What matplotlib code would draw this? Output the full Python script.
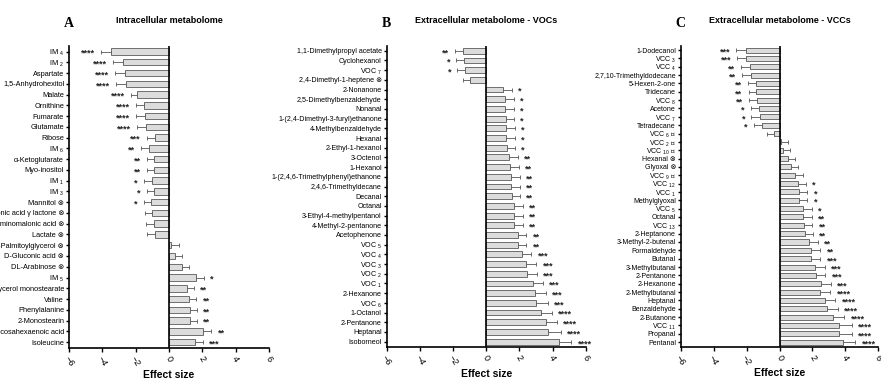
import matplotlib.pyplot as plt
import numpy as np

plt.rcParams['font.family'] = ['Liberation Sans', 'DejaVu Sans']
plt.rcParams['mathtext.fontset'] = 'custom'
plt.rcParams['mathtext.rm'] = 'Liberation Sans'
plt.rcParams['mathtext.it'] = 'Liberation Sans'

X = ' \u2297'  # excluded marker

# ---- panel A: intracellular metabolome
names_a = ['IM $_{4}$', 'IM $_{2}$', 'Aspartate', '1,5-Anhydrohexitol', 'Malate', 'Ornithine',
           'Fumarate', 'Glutamate', 'Ribose', 'IM $_{6}$', '\u03b1-Ketoglutarate', 'Myo-inositol',
           'IM $_{1}$', 'IM $_{3}$', 'Mannitol' + X, 'Gulonic acid \u03b3 lactone' + X,
           'Aminomalonic acid' + X, 'Lactate' + X, '2-Palmitoylglycerol' + X,
           'D-Gluconic acid' + X, 'DL-Arabinose' + X, 'IM $_{5}$', 'Glycerol monostearate',
           'Valine', 'Phenylalanine', '2-Monostearin', 'Docosahexaenoic acid', 'Isoleucine']
vals_a = [-3.45, -2.77, -2.65, -2.59, -1.89, -1.52, -1.45, -1.35, -0.86, -1.2, -0.92, -0.92,
          -1.0, -0.92, -1.05, -1.0, -0.92, -0.82, 0.12, 0.38, 0.78, 1.64, 1.08, 1.2,
          1.24, 1.24, 2.04, 1.58]
errs_a = [0.64, 0.58, 0.6, 0.6, 0.4, 0.44, 0.5, 0.57, 0.46, 0.46, 0.4, 0.4,
          0.52, 0.4, 0.46, 0.46, 0.48, 0.5, 0.48, 0.42, 0.42, 0.46, 0.42, 0.44,
          0.44, 0.44, 0.5, 0.46]
stars_a = ['****', '****', '****', '****', '****', '****', '****', '****', '***', '**', '**', '**',
           '*', '*', '*', '', '', '', '', '', '', '*', '**', '**', '**', '**', '**', '***']

# ---- panel B: extracellular VOCs
names_b = ['1,1-Dimethylpropyl acetate', 'Cyclohexanol', 'VOC $_{7}$', '2,4-Dimethyl-1-heptene' + X,
           '2-Nonanone', '2,5-Dimethylbenzaldehyde', 'Nonanal', '1-(2,4-Dimethyl-3-furyl)ethanone',
           '4-Methylbenzaldehyde', 'Hexanal', '2-Ethyl-1-hexanol', '3-Octenol', '1-Hexanol',
           '1-(2,4,6-Trimethylphenyl)ethanone', '2,4,6-Trimethyldecane', 'Decanal', 'Octanal',
           '3-Ethyl-4-methylpentanol', '4-Methyl-2-pentanone', 'Acetophenone', 'VOC $_{5}$',
           'VOC $_{4}$', 'VOC $_{3}$', 'VOC $_{2}$', 'VOC $_{1}$', '2-Hexanone', 'VOC $_{6}$',
           '1-Octanol', '2-Pentanone', 'Heptanal', 'Isoborneol']
vals_b = [-1.42, -1.34, -1.26, -0.98, 1.03, 1.15, 1.15, 1.17, 1.19, 1.19, 1.23, 1.39, 1.43,
          1.49, 1.49, 1.53, 1.67, 1.69, 1.69, 1.89, 1.89, 2.15, 2.43, 2.49, 2.83, 2.93, 3.03,
          3.28, 3.6, 3.7, 4.4]
errs_b = [0.46, 0.45, 0.48, 0.44, 0.5, 0.52, 0.52, 0.5, 0.52, 0.52, 0.5, 0.5, 0.54,
          0.54, 0.54, 0.5, 0.56, 0.54, 0.54, 0.54, 0.54, 0.58, 0.6, 0.58, 0.6, 0.66, 0.7,
          0.66, 0.68, 0.8, 0.74]
stars_b = ['**', '*', '*', '', '*', '*', '*', '*', '*', '*', '*', '**', '**', '**', '**', '**',
           '**', '**', '**', '**', '**', '***', '***', '***', '***', '***', '***',
           '****', '****', '****', '****']

# ---- panel C: extracellular VCCs
names_c = ['1-Dodecanol', 'VCC $_{3}$', 'VCC $_{4}$', '2,7,10-Trimethyldodecane', '5-Hexen-2-one',
           'Tridecane', 'VCC $_{8}$', 'Acetone', 'VCC $_{7}$', 'Tetradecane', 'VCC $_{6}$' + X,
           'VCC $_{2}$' + X, 'VCC $_{10}$' + X, 'Hexanal' + X, 'Glyoxal' + X, 'VCC $_{9}$' + X,
           'VCC $_{12}$', 'VCC $_{1}$', 'Methylglyoxal', 'VCC $_{5}$', 'Octanal', 'VCC $_{13}$',
           '2-Heptanone', '3-Methyl-2-butenal', 'Formaldehyde', 'Butanal', '3-Methylbutanal',
           '2-Pentanone', '2-Hexanone', '2-Methylbutanal', 'Heptanal', 'Benzaldehyde',
           '2-Butanone', 'VCC $_{11}$', 'Propanal', 'Pentanal']
vals_c = [-2.06, -2.02, -1.78, -1.76, -1.45, -1.41, -1.37, -1.25, -1.21, -1.09, -0.34, 0.06,
          0.2, 0.5, 0.67, 0.91, 1.11, 1.21, 1.21, 1.41, 1.41, 1.47, 1.52, 1.78, 1.92, 1.92,
          2.16, 2.22, 2.53, 2.48, 2.73, 2.87, 3.23, 3.58, 3.58, 3.84]
errs_c = [0.57, 0.55, 0.55, 0.53, 0.47, 0.47, 0.48, 0.5, 0.5, 0.47, 0.4, 0.44,
          0.44, 0.44, 0.44, 0.5, 0.5, 0.47, 0.47, 0.54, 0.54, 0.52, 0.52, 0.55, 0.55, 0.55,
          0.57, 0.57, 0.6, 0.6, 0.65, 0.67, 0.71, 0.81, 0.81, 0.77]
stars_c = ['***', '***', '**', '**', '**', '**', '**', '*', '*', '*', '', '', '', '', '', '',
           '*', '*', '*', '*', '**', '**', '**', '**', '**', '***', '***', '***', '***',
           '****', '****', '****', '****', '****', '****', '****']


def panel(ax, names, vals, errs, stars, letter, title, lab_size):
    y = np.arange(len(names))
    lo = [e if v < 0 else 0 for v, e in zip(vals, errs)]
    hi = [e if v >= 0 else 0 for v, e in zip(vals, errs)]
    ax.errorbar(vals, y, xerr=[lo, hi], fmt='none', ecolor='#555555', elinewidth=0.6,
                capsize=1.3, capthick=0.6, zorder=1)
    ax.barh(y, vals, height=0.6, color='#dcdcdc', edgecolor='#5a5a5a', linewidth=0.6, zorder=2)
    ax.axvline(0, color='black', lw=1.2, zorder=3)
    for yi, v, e, s in zip(y, vals, errs, stars):
        if not s:
            continue
        if v >= 0:
            ax.annotate(s, (v + e, yi), xytext=(4.5, -1.4), textcoords='offset points',
                        ha='left', va='center', fontsize=6.5, fontweight='bold', color='#222222')
        else:
            ax.annotate(s, (v - e, yi), xytext=(-4.5, -1.4), textcoords='offset points',
                        ha='right', va='center', fontsize=6.5, fontweight='bold', color='#222222')

    ax.set_xlim(-6, 6)
    ax.set_xticks(range(-6, 7, 2))
    ax.set_ylim(len(names) - 0.45, -0.52)
    ax.set_yticks(y)
    ax.set_yticklabels(names, fontsize=lab_size)
    ax.tick_params(axis='y', length=2.5, width=1, pad=1)
    ax.tick_params(axis='x', length=3, width=1, labelsize=6.5, labelrotation=-60, pad=2)
    for sp in ['top', 'right']:
        ax.spines[sp].set_visible(False)
    for sp in ['left', 'bottom']:
        ax.spines[sp].set_linewidth(1.2)
    ax.set_xlabel('Effect size', fontweight='bold', fontsize=7.5, va='center')
    ax.xaxis.set_label_coords(0.5, -0.088)
    ax.text(0.0, 1.075, letter, transform=ax.transAxes, ha='center', va='center',
            fontsize=10, fontweight='bold', family='Liberation Serif')
    ax.text(0.5, 1.085, title, transform=ax.transAxes, ha='center', va='center',
            fontsize=6.5, fontweight='bold')


fig = plt.figure(figsize=(8.81, 3.8), dpi=100)
ax_a = fig.add_axes([0.0783, 0.0842, 0.227, 0.795])
ax_b = fig.add_axes([0.4389, 0.0868, 0.2259, 0.793])
ax_c = fig.add_axes([0.7727, 0.0876, 0.2243, 0.792])

panel(ax_a, names_a, vals_a, errs_a, stars_a, 'A', 'Intracellular metabolome', 5.3)
panel(ax_b, names_b, vals_b, errs_b, stars_b, 'B', 'Extracellular metabolome - VOCs', 5.1)
panel(ax_c, names_c, vals_c, errs_c, stars_c, 'C', 'Extracellular metabolome - VCCs', 5.0)

fig.savefig('out.png', dpi=100)
